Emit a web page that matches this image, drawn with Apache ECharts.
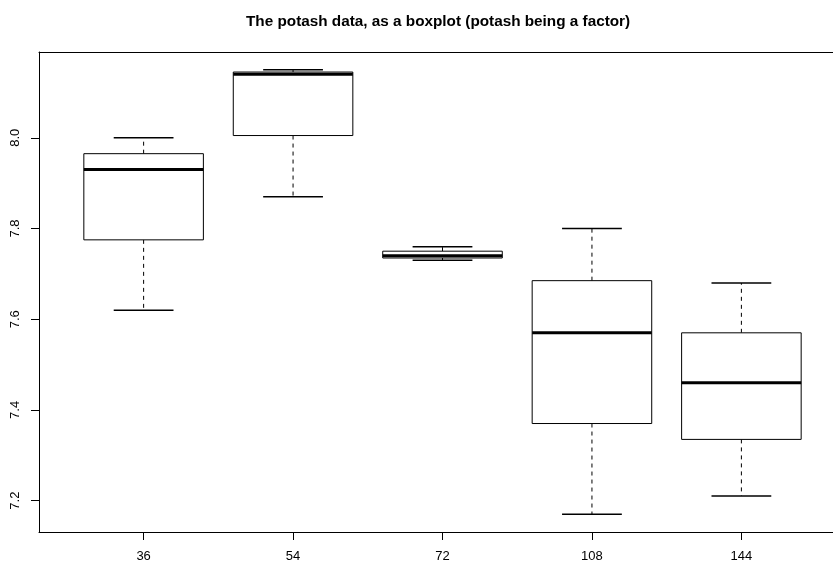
<!DOCTYPE html>
<html>
<head>
<meta charset="utf-8">
<script src="https://cdn.jsdelivr.net/npm/echarts@6/dist/echarts.min.js"></script>
<style>
html,body{margin:0;padding:0;background:#fff;overflow:hidden;}
#chart{width:833px;height:563px;}
</style>
</head>
<body>
<div id="chart"></div>
<script>
// Data
const categories = ['36', '54', '72', '108', '144'];
const mins    = [7.62, 7.87,  7.73,  7.17,  7.21];
const q1s     = [7.775, 8.005, 7.735, 7.37,  7.335];
const medians = [7.93, 8.14,  7.74,  7.57,  7.46];
const q3s     = [7.965, 8.145, 7.75,  7.685, 7.57];
const maxs    = [8.00, 8.15,  7.76,  7.80,  7.68];
const yTicks  = [7.2, 7.4, 7.6, 7.8, 8.0];

const positions = categories.map((c, i) => i + 1);
const data = categories.map((c, i) => [positions[i], mins[i], q1s[i], medians[i], q3s[i], maxs[i]]);

const FONT = "'Liberation Sans', Arial, Helvetica, sans-serif";
const BOXWEX = 0.8;
const STAPLE = 0.4;
// The reference plot region runs past the right edge of the picture (x range 0.3..5.7),
// so only the visible part of the x range is shown here.
const X_MIN = 0.3;
const X_MAX_VISIBLE = 5.613;

const chart = echarts.init(document.getElementById('chart'), null, {renderer: 'canvas'});

function renderItem(params, api) {
  const x = api.value(0);
  const vmin = api.value(1), vq1 = api.value(2), vmed = api.value(3), vq3 = api.value(4), vmax = api.value(5);
  const pMin = api.coord([x, vmin]);
  const pQ1 = api.coord([x, vq1]);
  const pMed = api.coord([x, vmed]);
  const pQ3 = api.coord([x, vq3]);
  const pMax = api.coord([x, vmax]);
  const halfBox = api.size([BOXWEX, 0])[0] / 2;
  const halfCap = api.size([STAPLE, 0])[0] / 2;
  const cx = pMed[0];
  const whiskerStyle = {stroke: '#000', lineWidth: 1, lineDash: [4, 4]};
  return {
    type: 'group',
    children: [
      {type: 'line', shape: {x1: cx, y1: pQ3[1], x2: cx, y2: pMax[1]}, style: whiskerStyle},
      {type: 'line', shape: {x1: cx, y1: pQ1[1], x2: cx, y2: pMin[1]}, style: whiskerStyle},
      {type: 'line', shape: {x1: cx - halfCap, y1: pMax[1], x2: cx + halfCap, y2: pMax[1]}, style: {stroke: '#000', lineWidth: 1.5}},
      {type: 'line', shape: {x1: cx - halfCap, y1: pMin[1], x2: cx + halfCap, y2: pMin[1]}, style: {stroke: '#000', lineWidth: 1.5}},
      {type: 'rect', shape: {x: cx - halfBox, y: pQ3[1], width: halfBox * 2, height: pQ1[1] - pQ3[1]}, style: {fill: '#fff', stroke: '#000', lineWidth: 1}},
      {type: 'line', shape: {x1: cx - halfBox, y1: pMed[1], x2: cx + halfBox, y2: pMed[1]}, style: {stroke: '#000', lineWidth: 3}}
    ]
  };
}

chart.setOption({
  animation: false,
  backgroundColor: '#fff',
  title: {
    text: 'The potash data, as a boxplot (potash being a factor)',
    left: 246,
    top: 14,
    padding: 0,
    textStyle: {fontFamily: FONT, fontSize: 15.3, fontWeight: 'bold', color: '#000'}
  },
  grid: {
    left: 39, top: 52, right: 0, bottom: 30.6,
    show: false
  },
  xAxis: [{
    type: 'value',
    position: 'bottom',
    min: X_MIN, max: X_MAX_VISIBLE,
    splitLine: {show: false},
    axisLine: {show: true, onZero: false, lineStyle: {color: '#000', width: 1}},
    axisTick: {show: true, length: 8, lineStyle: {color: '#000'}, customValues: positions},
    axisLabel: {
      customValues: positions,
      margin: 18,
      formatter: v => categories[Math.round(v) - 1],
      fontFamily: FONT, fontSize: 13, color: '#000'
    }
  }, {
    type: 'value',
    position: 'top',
    min: X_MIN, max: X_MAX_VISIBLE,
    splitLine: {show: false},
    axisLine: {show: true, onZero: false, lineStyle: {color: '#000', width: 1}},
    axisTick: {show: false},
    axisLabel: {show: false}
  }],
  yAxis: {
    type: 'value',
    min: 7.1308, max: 8.1892,
    splitLine: {show: false},
    axisLine: {show: true, onZero: false, lineStyle: {color: '#000', width: 1}},
    axisTick: {show: true, length: 8, lineStyle: {color: '#000'}, customValues: yTicks},
    axisLabel: {
      customValues: yTicks,
      rotate: 90,
      margin: 17,
      formatter: v => v.toFixed(1),
      fontFamily: FONT, fontSize: 13, color: '#000'
    }
  },
  series: [{
    type: 'custom',
    renderItem: renderItem,
    data: data,
    xAxisIndex: 0,
    encode: {x: 0, y: [1, 2, 3, 4, 5]},
    clip: false
  }]
});
</script>
</body>
</html>
